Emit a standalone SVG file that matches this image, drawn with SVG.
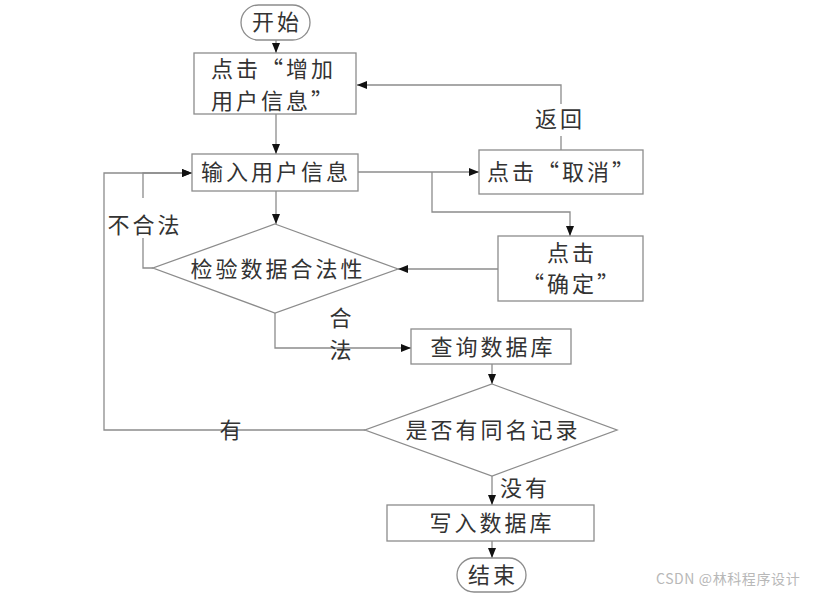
<svg xmlns="http://www.w3.org/2000/svg" width="815" height="595" viewBox="0 0 815 595">
<defs>
<style>
.box{fill:#fff;stroke:#8c8c8c;stroke-width:1.3}
.ln{fill:none;stroke:#8c8c8c;stroke-width:1.3}
.t{font-family:"Noto Sans CJK SC","Noto Sans",sans-serif;font-size:22px;fill:#333;letter-spacing:3px}
.c{text-anchor:middle}
.wm{font-family:"Noto Sans CJK SC","Noto Sans",sans-serif;font-size:14px;fill:#b8b8b8;letter-spacing:0.6px}
</style>
<marker id="a" markerUnits="userSpaceOnUse" markerWidth="10" markerHeight="10" viewBox="0 0 10 10" refX="10" refY="5" orient="auto">
<path d="M0,1 L10,5 L0,9 Z" fill="#111"/>
</marker>
</defs>
<rect width="815" height="595" fill="#fff"/>
<g id="connectors">
<path class="ln" d="M276,40 V53" marker-end="url(#a)"/>
<path class="ln" d="M276,114 V154" marker-end="url(#a)"/>
<path class="ln" d="M358,172 H479" marker-end="url(#a)"/>
<path class="ln" d="M432,172 V212 H570 V236" marker-end="url(#a)"/>
<path class="ln" d="M561,150 V136"/>
<path class="ln" d="M561,104 V85 H357" marker-end="url(#a)"/>
<path class="ln" d="M498,269 H398" marker-end="url(#a)"/>
<path class="ln" d="M276,191 V224" marker-end="url(#a)"/>
<path class="ln" d="M153,268 H143 V238"/>
<path class="ln" d="M143,198 V173 H192" marker-end="url(#a)"/>
<path class="ln" d="M275,313 V348 H411" marker-end="url(#a)"/>
<path class="ln" d="M492,364 V384" marker-end="url(#a)"/>
<path class="ln" d="M365,430 H104 V173 H192" marker-end="url(#a)"/>
<path class="ln" d="M492,476 V505" marker-end="url(#a)"/>
<path class="ln" d="M492,541 V558" marker-end="url(#a)"/>
<text class="t c" x="560" y="127">返回</text>
<text class="t c" x="145" y="233">不合法</text>
<text class="t c" x="342" y="326">合</text>
<text class="t c" x="342" y="358">法</text>
<text class="t c" x="232" y="438">有</text>
<text class="t" x="500" y="496">没有</text>
</g>
<g id="start">
<rect class="box" x="241" y="5" width="69" height="35" rx="17.5"/>
<text class="t c" x="277" y="30">开始</text>
</g>
<g id="add">
<rect class="box" x="194" y="53" width="162" height="61"/>
<text class="t" x="211" y="77">点击“增加</text>
<text class="t" x="211" y="109">用户信息”</text>
</g>
<g id="input">
<rect class="box" x="192" y="154" width="166" height="37"/>
<text class="t c" x="276" y="180">输入用户信息</text>
</g>
<g id="cancel">
<rect class="box" x="479" y="150" width="164" height="44"/>
<text class="t c" x="562" y="180">点击“取消”</text>
</g>
<g id="confirm">
<rect class="box" x="498" y="236" width="145" height="65"/>
<text class="t c" x="572" y="261">点击</text>
<text class="t c" x="572" y="292">“确定”</text>
</g>
<g id="validate">
<polygon class="box" points="275,224 398,269 275,313 153,268"/>
<text class="t c" x="278" y="277">检验数据合法性</text>
</g>
<g id="query">
<rect class="box" x="411" y="329" width="160" height="35"/>
<text class="t c" x="493" y="355">查询数据库</text>
</g>
<g id="dup">
<polygon class="box" points="492,384 617,430 492,476 365,430"/>
<text class="t c" x="493" y="438">是否有同名记录</text>
</g>
<g id="write">
<rect class="box" x="387" y="505" width="207" height="36"/>
<text class="t c" x="492" y="531">写入数据库</text>
</g>
<g id="end">
<rect class="box" x="457" y="558" width="69" height="34" rx="17"/>
<text class="t c" x="493" y="583">结束</text>
</g>
<text class="wm" x="656" y="584">CSDN @林科程序设计</text>
</svg>
